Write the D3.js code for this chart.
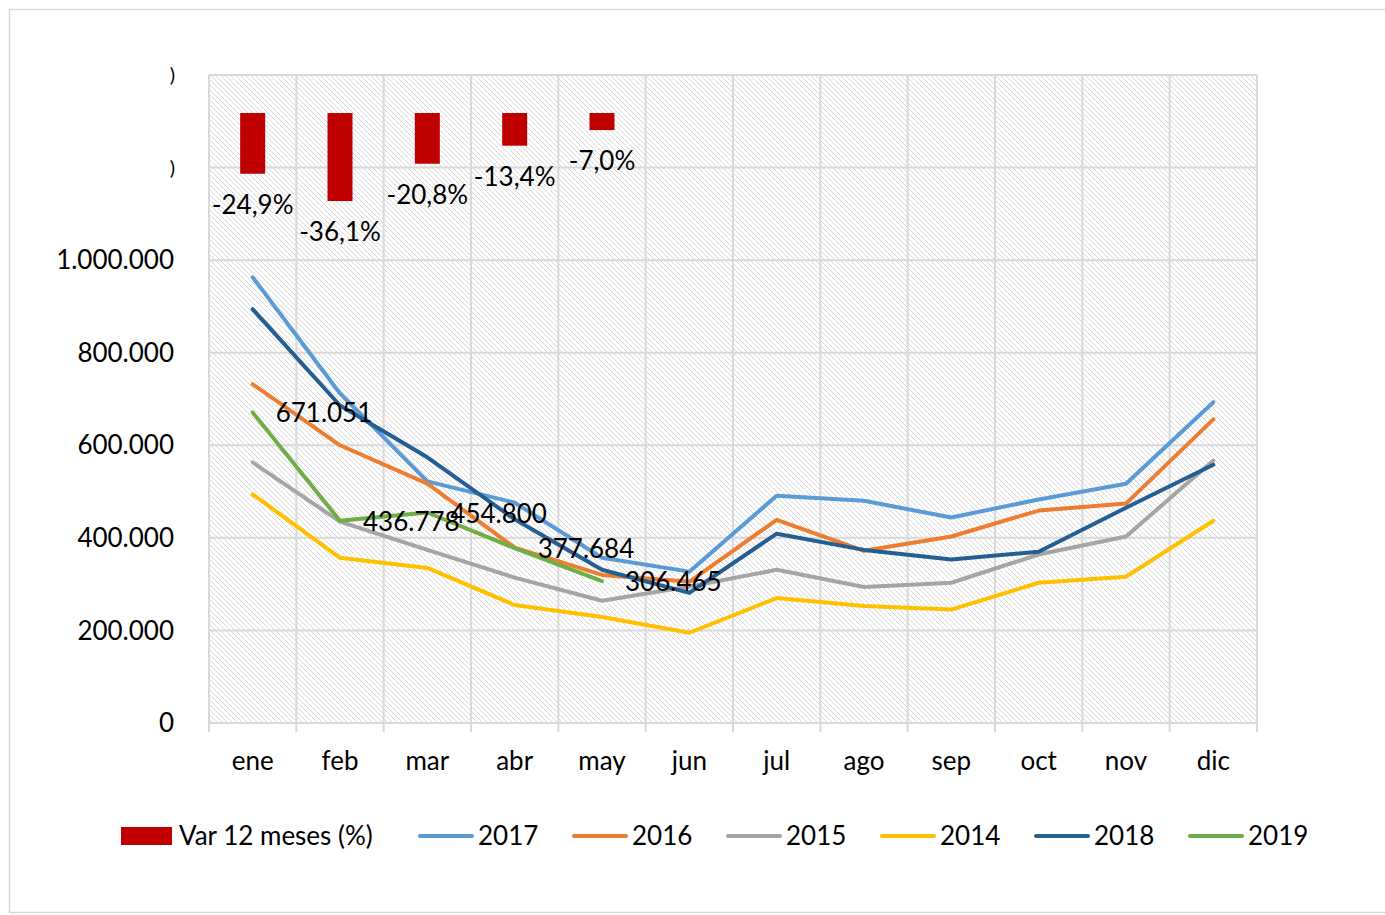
<!DOCTYPE html>
<html><head><meta charset="utf-8">
<script src="https://cdn.jsdelivr.net/npm/d3@7"></script>
<style>body{margin:0;background:#fff}text{font-family:Lato,"Open Sans",sans-serif;fill:#000}</style>
</head><body>
<svg id="c" width="1385" height="915"></svg>
<script>
const months = ["ene","feb","mar","abr","may","jun","jul","ago","sep","oct","nov","dic"];
const varPct = [-24.9,-36.1,-20.8,-13.4,-7.0];
const varLabels = ["-24,9%","-36,1%","-20,8%","-13,4%","-7,0%"];
const s2017 = [963000,712000,522000,476000,357000,327000,491000,480000,444000,483000,517000,693000];
const s2016 = [732000,600000,517000,379000,320000,305000,439000,372000,403000,459000,474000,656000];
const s2015 = [563000,435000,374000,314000,264000,295000,331000,294000,303000,364000,403000,567000];
const s2014 = [494000,357000,335000,255000,229000,195000,270000,253000,245000,303000,316000,437000];
const s2018 = [894000,686000,574000,440000,331000,281000,409000,374000,353000,370000,465000,558000];
const s2019 = [671051,436778,454800,377684,306465];
const s2019Labels = ["671.051","436.778","454.800","377.684","306.465"];
const yTicks = [0,200000,400000,600000,800000,1000000];
const yTickLabels = ["0","200.000","400.000","600.000","800.000","1.000.000"];
const hiddenTicks = [1200000,1400000];

const series = [
  {name:"2017", values:s2017, color:"#5B9BD5"},
  {name:"2016", values:s2016, color:"#ED7D31"},
  {name:"2015", values:s2015, color:"#A5A5A5"},
  {name:"2014", values:s2014, color:"#FFC000"},
  {name:"2018", values:s2018, color:"#255E91"},
  {name:"2019", values:s2019, color:"#70AD47"}
];

const svg = d3.select("#c");
const L=209, R=1257, T=75, B=723;
const FS = 26;

svg.append("rect").attr("x",9.5).attr("y",9.5).attr("width",1385).attr("height",903)
  .attr("fill","#fff").attr("stroke","#d9d9d9").attr("stroke-width",1.5);

const defs = svg.append("defs");
const pat = defs.append("pattern").attr("id","hatch").attr("patternUnits","userSpaceOnUse")
  .attr("width",5).attr("height",5);
pat.append("rect").attr("width",5).attr("height",5).attr("fill","#fff");
pat.append("path").attr("d","M-1,-1L6,6M-1,4L1,6M4,-1L6,1").attr("stroke","#d9d9d9").attr("stroke-width",1);

const x = d3.scaleBand().domain(months).range([L,R]);
const y = d3.scaleLinear().domain([0,1400000]).range([B,T]);
const y2 = d3.scaleLinear().domain([-250.2,15.6]).range([B,T]);

svg.append("rect").attr("x",L).attr("y",T).attr("width",R-L).attr("height",B-T).attr("fill","url(#hatch)");

const g = svg.append("g");
g.selectAll(".hg").data(yTicks.concat(hiddenTicks)).join("line")
  .attr("x1",L).attr("x2",R).attr("y1",d=>y(d)).attr("y2",d=>y(d))
  .attr("stroke","#d9d9d9").attr("stroke-width",2);
const bounds = months.map(m=>x(m)).concat([R]);
g.selectAll(".vg").data(bounds).join("line")
  .attr("x1",d=>d).attr("x2",d=>d).attr("y1",T).attr("y2",B+9)
  .attr("stroke","#d9d9d9").attr("stroke-width",2);

svg.selectAll(".yl").data(yTicks).join("text")
  .attr("x",174).attr("y",d=>y(d)).attr("dy","0.35em").attr("text-anchor","end")
  .attr("font-size",FS).text((d,i)=>yTickLabels[i]);
svg.selectAll(".yh").data(hiddenTicks).join("text")
  .attr("x",175).attr("y",d=>y(d)).attr("dy","0.35em").attr("text-anchor","end")
  .attr("font-size",20).text(")");

svg.selectAll(".xl").data(months).join("text")
  .attr("x",d=>x(d)+x.bandwidth()/2).attr("y",761).attr("dy","0.35em").attr("text-anchor","middle")
  .attr("font-size",FS).text(d=>d);

const bw = 25;
svg.selectAll(".bar").data(varPct).join("rect")
  .attr("x",(d,i)=>x(months[i])+x.bandwidth()/2-bw/2).attr("width",bw)
  .attr("y",y2(0)).attr("height",d=>y2(d)-y2(0)).attr("fill","#C00000");
svg.selectAll(".bl").data(varPct).join("text")
  .attr("x",(d,i)=>x(months[i])+x.bandwidth()/2).attr("y",d=>y2(d)+31).attr("dy","0.35em")
  .attr("text-anchor","middle").attr("font-size",FS).text((d,i)=>varLabels[i]);

const line = d3.line().x((d,i)=>x(months[i])+x.bandwidth()/2).y(d=>y(d));
series.forEach(s=>{
  svg.append("path").datum(s.values).attr("d",line).attr("fill","none")
    .attr("stroke",s.color).attr("stroke-width",4).attr("stroke-linecap","round").attr("stroke-linejoin","round");
});

svg.selectAll(".dl").data(s2019).join("text")
  .attr("x",(d,i)=>x(months[i])+x.bandwidth()/2+23).attr("y",d=>y(d)+1).attr("dy","0.35em")
  .attr("font-size",FS).text((d,i)=>s2019Labels[i]);

const lg = svg.append("g");
lg.append("rect").attr("x",121).attr("y",827).attr("width",51).attr("height",18).attr("fill","#C00000");
lg.append("text").attr("x",179).attr("y",836).attr("dy","0.35em").attr("font-size",FS).text("Var 12 meses (%)");
series.forEach((s,i)=>{
  const lx = 420 + i*154;
  lg.append("line").attr("x1",lx).attr("x2",lx+52).attr("y1",836).attr("y2",836)
    .attr("stroke",s.color).attr("stroke-width",4).attr("stroke-linecap","round");
  lg.append("text").attr("x",lx+58).attr("y",836).attr("dy","0.35em").attr("font-size",FS).text(s.name);
});
</script>
</body></html>
